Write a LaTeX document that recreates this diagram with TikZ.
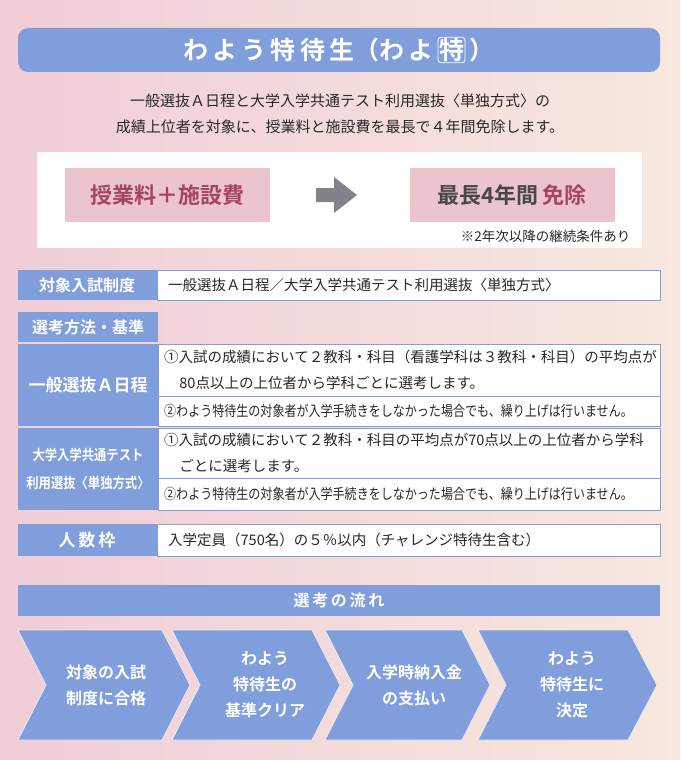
\documentclass[tikz,border=0pt]{standalone}
\usepackage{fontspec}
\setmainfont{Noto Sans CJK JP}
\newfontfamily\jpb{Noto Sans CJK JP Bold}
\definecolor{blu}{RGB}{128,157,220}
\definecolor{pnk}{RGB}{236,196,205}
\definecolor{wine}{RGB}{165,70,95}
\definecolor{txt}{RGB}{40,40,40}
\definecolor{gry}{RGB}{128,130,140}
\begin{document}
\begin{tikzpicture}[x=1pt,y=-1pt,
  lab/.style={fill=blu,text=white,font=\jpb\fontsize{16}{18}\selectfont,inner sep=0},
  cell/.style={draw=blu,fill=white,line width=0.8pt},
  ct/.style={text=txt,font=\fontsize{14.5}{26}\selectfont,anchor=west,align=left,inner sep=0},
  chev/.style={fill=blu,draw=white!80!blu,line width=0.8pt},
  chevt/.style={text=white,font=\jpb\fontsize{16}{26}\selectfont,align=center}]
\useasboundingbox (0,0) rectangle (680,760);
\shade[left color={rgb,255:red,240;green,205;blue,216},right color={rgb,255:red,248;green,232;blue,222}] (0,0) rectangle (680,760);
% title
\fill[blu,rounded corners=10pt] (18,28) rectangle (660,72);
\node[text=white,font=\jpb\fontsize{25}{28}\selectfont] (title) at (339,50) {わ\,よ\,う\,特\,待\,生（わ\,よ\,\tikz[baseline=(k.base)]\node[draw=white,rounded corners=3pt,inner sep=1pt,line width=0.8pt](k){特};\,）};
\node[text=txt,font=\fontsize{15}{26}\selectfont,align=center] (intro) at (340,114) {一般選抜Ａ日程と大学入学共通テスト利用選抜〈単独方式〉の\\成績上位者を対象に、授業料と施設費を最長で４年間免除します。};
% white box
\fill[white] (37,152) rectangle (642,248);
\fill[pnk] (65,168) rectangle (270,222);
\node[text=wine,font=\jpb\fontsize{22}{24}\selectfont] (fee) at (167,195) {授業料＋施設費};
\fill[pnk] (410,168) rectangle (615,222);
\node[font=\jpb\fontsize{22}{24}\selectfont] (free) at (512,195) {\textcolor{txt!85!white}{最長4年間}\,\textcolor{wine}{免除}};
\fill[gry] (316,188) -- (334,188) -- (334,177) -- (357,195) -- (334,213) -- (334,202) -- (316,202) -- cycle;
\node[text=txt,font=\fontsize{13.5}{14}\selectfont,anchor=east] (note) at (634,236) {※2年次以降の継続条件あり};
% row 1
\fill[blu] (18,270) rectangle (157,300);
\node[lab] (l1) at (87,285) {対象入試制度};
\draw[cell] (157,270) rectangle (660,300);
\node[ct] (c1) at (168,285) {一般選抜Ａ日程／大学入学共通テスト利用選抜〈単独方式〉};
% selection
\fill[blu] (18,312) rectangle (158,342);
\node[lab] (l2) at (88,327) {選考方法・基準};
\fill[blu] (18,344) rectangle (158,426);
\node[lab,font=\jpb\fontsize{17}{18}\selectfont] (l3) at (88,385) {一般選抜Ａ日程};
\draw[cell] (158,344) rectangle (660,396);
\node[ct] (c3a) at (164,370) {①入試の成績において２教科・科目（看護学科は３教科・科目）の平均点が\\\hspace{1.05em}80点以上の上位者から学科ごとに選考します。};
\draw[cell] (158,396) rectangle (660,426);
\node[ct] (c3b) at (164,411) {\scalebox{0.83}[1]{②わよう特待生の対象者が入学手続きをしなかった場合でも、繰り上げは行いません。}};
\fill[blu] (18,428) rectangle (158,510);
\node[lab,font=\jpb\fontsize{14.5}{28}\selectfont,align=center] (l4) at (88,469) {\scalebox{0.85}[1]{大学入学共通テスト}\\\scalebox{0.85}[1]{利用選抜〈単独方式〉}};
\draw[cell] (158,428) rectangle (660,478);
\node[ct] (c4a) at (164,453) {①入試の成績において２教科・科目の平均点が70点以上の上位者から学科\\\hspace{1.05em}ごとに選考します。};
\draw[cell] (158,478) rectangle (660,510);
\node[ct] (c4b) at (164,494) {\scalebox{0.83}[1]{②わよう特待生の対象者が入学手続きをしなかった場合でも、繰り上げは行いません。}};
% capacity
\fill[blu] (18,524) rectangle (157,556);
\node[lab,font=\jpb\fontsize{17}{18}\selectfont] (l5) at (87,540) {人\,数\,枠};
\draw[cell] (157,524) rectangle (660,556);
\node[ct] (c5) at (168,540) {入学定員（750名）の５％以内（チャレンジ特待生含む）};
% flow
\fill[blu] (18,585) rectangle (660,616);
\node[lab,font=\jpb\fontsize{16}{18}\selectfont] (flow) at (339,600) {選\,考\,の\,流\,れ};
\draw[chev] (18,630) -- (162,630) -- (190,685) -- (162,740) -- (18,740) -- (46,685) -- cycle;
\draw[chev] (172,630) -- (312,630) -- (340,685) -- (312,740) -- (172,740) -- (200,685) -- cycle;
\draw[chev] (325,630) -- (462,630) -- (490,685) -- (462,740) -- (325,740) -- (353,685) -- cycle;
\draw[chev] (478,630) -- (628,630) -- (657,685) -- (628,740) -- (478,740) -- (506,685) -- cycle;
\node[chevt] (f1) at (106,685) {対象の入試\\制度に合格};
\node[chevt] (f2) at (265,685) {わよう\\特待生の\\基準クリア};
\node[chevt] (f3) at (414,685) {入学時納入金\\の支払い};
\node[chevt] (f4) at (572,685) {わよう\\特待生に\\決定};
\end{tikzpicture}
\end{document}
